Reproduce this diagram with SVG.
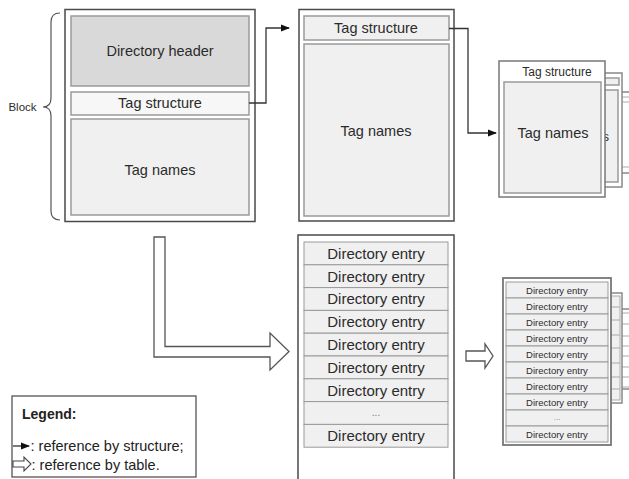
<svg xmlns="http://www.w3.org/2000/svg" width="629" height="479" viewBox="0 0 629 479">
<defs>
<style>
.outer{fill:#ffffff;stroke:#4a4a4a;stroke-width:1.5}
.inner{fill:#f0f0f0;stroke:#9a9a9a;stroke-width:1.5}
.hdr{fill:#d9d9d9;stroke:#9a9a9a;stroke-width:1.5}
.light{fill:#f7f7f7;stroke:#9a9a9a;stroke-width:1.5}
.t{font-family:"Liberation Sans",Arial,sans-serif;fill:#2b2b2b;text-anchor:middle}
.big{font-size:14.5px}
.ent{font-size:15px}
.mid{font-size:12px}
.sm{font-size:9.5px}
.lg{font-family:"Liberation Sans",Arial,sans-serif;font-size:14.5px;fill:#222}
.conn{fill:none;stroke:#333;stroke-width:1.3}
.hollow{fill:#ffffff;stroke:#555;stroke-width:1.3}
.row{fill:#f0f0f0;stroke:#9a9a9a;stroke-width:1}
</style>
<marker id="ah" markerWidth="9" markerHeight="8" refX="8" refY="4" orient="auto" markerUnits="userSpaceOnUse">
<path d="M0,0.5 L9,4 L0,7.5 z" fill="#111"/>
</marker>
</defs>

<g id="block-brace">
<path d="M60,13 Q51,13 51,22 L51,98 Q51,107 43,107 Q51,107 51,116 L51,211 Q51,220 60,220" fill="none" stroke="#555" stroke-width="1.2"/>
<text class="t" x="22.5" y="111" style="font-size:11.5px">Block</text>
</g>

<g id="block1">
<rect class="outer" x="65" y="9.5" width="190" height="212"/>
<rect class="hdr" x="71" y="16" width="178" height="70"/>
<text class="t big" x="160" y="56">Directory header</text>
<rect class="light" x="71" y="92" width="178" height="23"/>
<text class="t big" x="160" y="108">Tag structure</text>
<rect class="inner" x="71" y="119" width="178" height="96"/>
<text class="t big" x="160" y="175">Tag names</text>
</g>

<g id="block2">
<rect class="outer" x="299" y="9.5" width="155" height="211.5"/>
<rect class="inner" x="304" y="16" width="145" height="24"/>
<text class="t big" x="376" y="33">Tag structure</text>
<rect class="inner" x="304" y="44" width="145" height="172"/>
<text class="t big" x="376" y="136">Tag names</text>
</g>

<g id="block3-stack">
<rect class="outer" x="540" y="92" width="100" height="81" style="stroke:#888"/>
<line x1="540" y1="97" x2="629" y2="97" stroke="#aaa" stroke-width="1"/>
<line x1="540" y1="102" x2="629" y2="102" stroke="#aaa" stroke-width="1"/>
<line x1="540" y1="167" x2="629" y2="167" stroke="#aaa" stroke-width="1"/>
<rect class="outer" x="515" y="73" width="107" height="114" style="stroke:#888"/>
<rect class="inner" x="519" y="78" width="100" height="7"/>
<rect class="inner" x="519" y="90" width="99" height="92"/>
<text class="t" x="609" y="141" style="font-size:12px;text-anchor:end">s</text>
<rect class="outer" x="499" y="61" width="106" height="136" style="stroke:#777"/>
<text class="t mid" x="557" y="76">Tag structure</text>
<rect class="inner" x="504" y="82" width="97" height="111"/>
<text class="t big" x="553" y="138">Tag names</text>
</g>

<g id="directory-table">
<rect class="outer" x="298" y="235" width="156" height="250"/>
<g id="dir-rows">
<rect class="row" x="304" y="242" width="144" height="22.8"/>
<rect class="row" x="304" y="264.8" width="144" height="22.8"/>
<rect class="row" x="304" y="287.6" width="144" height="22.8"/>
<rect class="row" x="304" y="310.4" width="144" height="22.8"/>
<rect class="row" x="304" y="333.2" width="144" height="22.8"/>
<rect class="row" x="304" y="356" width="144" height="22.8"/>
<rect class="row" x="304" y="378.8" width="144" height="22.8"/>
<rect class="row" x="304" y="401.6" width="144" height="22.8"/>
<rect class="row" x="304" y="424.4" width="144" height="22.8"/>
</g>
<text class="t ent" x="376" y="258.7">Directory entry</text>
<text class="t ent" x="376" y="281.5">Directory entry</text>
<text class="t ent" x="376" y="304.3">Directory entry</text>
<text class="t ent" x="376" y="327.1">Directory entry</text>
<text class="t ent" x="376" y="349.9">Directory entry</text>
<text class="t ent" x="376" y="372.7">Directory entry</text>
<text class="t ent" x="376" y="395.5">Directory entry</text>
<text class="t" x="376" y="416" style="font-size:10px;fill:#777">...</text>
<text class="t ent" x="376" y="441.1">Directory entry</text>
</g>

<g id="small-table-stack">
<rect class="outer" x="600" y="309" width="40" height="80" style="stroke:#888"/>
<g stroke="#aaa" stroke-width="1">
<line x1="611" y1="313" x2="629" y2="313"/><line x1="611" y1="324" x2="629" y2="324"/>
<line x1="611" y1="336" x2="629" y2="336"/><line x1="611" y1="346" x2="629" y2="346"/>
<line x1="611" y1="356" x2="629" y2="356"/><line x1="611" y1="367" x2="629" y2="367"/>
<line x1="611" y1="377" x2="629" y2="377"/><line x1="611" y1="387" x2="629" y2="387"/>
</g>
<rect class="outer" x="590" y="293" width="32" height="110" style="stroke:#888"/>
<rect x="593" y="296" width="27" height="104" fill="#f0f0f0" stroke="#aaa" stroke-width="1"/>
<g stroke="#aaa" stroke-width="1">
<line x1="600" y1="307" x2="620" y2="307"/><line x1="600" y1="320" x2="620" y2="320"/>
<line x1="600" y1="335" x2="620" y2="335"/><line x1="600" y1="348" x2="620" y2="348"/>
<line x1="600" y1="363" x2="620" y2="363"/><line x1="600" y1="377" x2="620" y2="377"/>
<line x1="600" y1="389" x2="620" y2="389"/>
</g>
<rect class="outer" x="503" y="278" width="108" height="167" style="stroke:#777;stroke-width:1.8"/>
<rect class="row" x="506" y="282" width="102" height="16"/>
<rect class="row" x="506" y="298" width="102" height="16"/>
<rect class="row" x="506" y="314" width="102" height="16"/>
<rect class="row" x="506" y="330" width="102" height="16"/>
<rect class="row" x="506" y="346" width="102" height="16"/>
<rect class="row" x="506" y="362" width="102" height="16"/>
<rect class="row" x="506" y="378" width="102" height="16"/>
<rect class="row" x="506" y="394" width="102" height="16"/>
<rect class="row" x="506" y="410" width="102" height="16"/>
<rect class="row" x="506" y="426" width="102" height="16"/>
<text class="t sm" x="557" y="293.5">Directory entry</text>
<text class="t sm" x="557" y="309.5">Directory entry</text>
<text class="t sm" x="557" y="325.5">Directory entry</text>
<text class="t sm" x="557" y="341.5">Directory entry</text>
<text class="t sm" x="557" y="357.5">Directory entry</text>
<text class="t sm" x="557" y="373.5">Directory entry</text>
<text class="t sm" x="557" y="389.5">Directory entry</text>
<text class="t sm" x="557" y="405.5">Directory entry</text>
<text class="t" x="557" y="420" style="font-size:8px;fill:#777">...</text>
<text class="t sm" x="557" y="437.5">Directory entry</text>
</g>

<g id="connectors">
<polyline class="conn" points="249,103 266,103 266,28 289,28" marker-end="url(#ah)"/>
<polyline class="conn" points="449,28.5 468,28.5 468,133 496,133" marker-end="url(#ah)"/>
<polygon class="hollow" points="154,237 165,237 165,346.5 270,346.5 270,333 289,351.5 270,370 270,357 154,357"/>
<polygon class="hollow" points="466,351 485,351 485,344 493,356 485,368 485,361 466,361"/>
</g>

<g id="legend">
<rect x="12" y="396" width="184" height="81" fill="#ffffff" stroke="#555" stroke-width="1.3"/>
<text x="22" y="419" style="font-family:'Liberation Sans',Arial,sans-serif;font-size:14px;font-weight:bold;fill:#222">Legend:</text>
<line x1="13" y1="446" x2="29" y2="446" stroke="#222" stroke-width="1.2" marker-end="url(#ah)"/>
<text class="lg" x="30.5" y="451">: reference by structure;</text>
<polygon points="13,461 24,461 24,457 31,464 24,471 24,467 13,467" fill="#fff" stroke="#444" stroke-width="1.1"/>
<text class="lg" x="31.5" y="469.5">: reference by table.</text>
</g>
</svg>
